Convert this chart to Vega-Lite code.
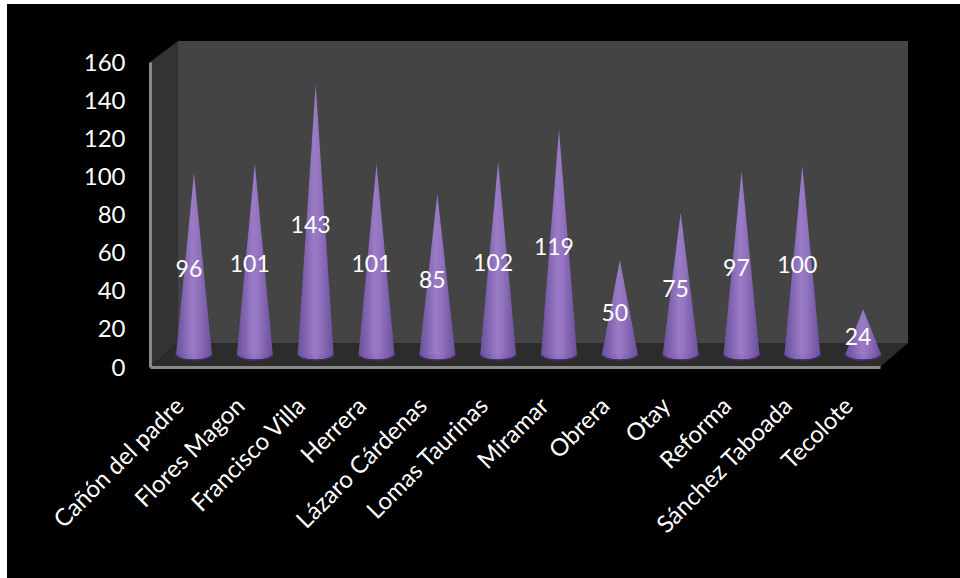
{
  "$schema": "https://vega.github.io/schema/vega-lite/v6.json",
  "width": 730,
  "height": 305,
  "autosize": "none",
  "padding": {"left": 150, "top": 62, "right": 80, "bottom": 211},
  "background": "#ffffff",
  "config": {"view": {"stroke": null}, "font": "Lato"},
  "datasets": {
    "barrios": [
      {"name": "Cañón del padre", "floor": 0, "apex": 96, "end": 0},
      {"name": "Flores Magon", "floor": 0, "apex": 101, "end": 0},
      {"name": "Francisco Villa", "floor": 0, "apex": 143, "end": 0},
      {"name": "Herrera", "floor": 0, "apex": 101, "end": 0},
      {"name": "Lázaro Cárdenas", "floor": 0, "apex": 85, "end": 0},
      {"name": "Lomas Taurinas", "floor": 0, "apex": 102, "end": 0},
      {"name": "Miramar", "floor": 0, "apex": 119, "end": 0},
      {"name": "Obrera", "floor": 0, "apex": 50, "end": 0},
      {"name": "Otay", "floor": 0, "apex": 75, "end": 0},
      {"name": "Reforma", "floor": 0, "apex": 97, "end": 0},
      {"name": "Sánchez Taboada", "floor": 0, "apex": 100, "end": 0},
      {"name": "Tecolote", "floor": 0, "apex": 24, "end": 0}
    ],
    "backdrop": [
      {"part": "panel", "u": -143, "top": 190.4, "bottom": -110.7},
      {"part": "panel", "u": 810, "top": 190.4, "bottom": -110.7},
      {"part": "side wall", "u": 0, "top": 160, "bottom": 0},
      {"part": "side wall", "u": 28, "top": 171, "bottom": 12.6},
      {"part": "back wall", "u": 28, "top": 171, "bottom": 12.6},
      {"part": "back wall", "u": 758, "top": 171, "bottom": 12.6},
      {"part": "floor", "u": 0, "top": 0, "bottom": 0},
      {"part": "floor", "u": 28, "top": 12.6, "bottom": 0},
      {"part": "floor", "u": 730, "top": 12.6, "bottom": 0},
      {"part": "floor", "u": 758, "top": 12.6, "bottom": 12.6}
    ]
  },
  "resolve": {
    "scale": {"x": "independent", "y": "independent"},
    "axis": {"x": "independent", "y": "independent"}
  },
  "layer": [
    {
      "data": {"name": "backdrop"},
      "mark": {"type": "area", "clip": false},
      "encoding": {
        "x": {"field": "u", "type": "quantitative", "axis": null, "scale": {"domain": [0, 730], "nice": false, "zero": false}},
        "y": {
          "field": "top",
          "type": "quantitative",
          "stack": null,
          "scale": {"domain": [0, 160], "nice": false},
          "axis": {
            "title": null,
            "values": [0, 20, 40, 60, 80, 100, 120, 140, 160],
            "grid": false,
            "ticks": false,
            "domainColor": "#8a8a8a",
            "domainWidth": 3,
            "labelColor": "#ffffff",
            "labelFontSize": 24,
            "labelPadding": 25,
            "labelOffset": 1,
            "zindex": 1
          }
        },
        "y2": {"field": "bottom"},
        "detail": {"field": "part"},
        "color": {
          "field": "part",
          "type": "nominal",
          "legend": null,
          "scale": {"domain": ["panel", "side wall", "back wall", "floor"], "range": ["#000000", "#333333", "#444444", "#2c2c2c"]}
        }
      }
    },
    {
      "data": {"name": "barrios"},
      "transform": [{"fold": ["floor", "apex", "end"], "as": ["corner", "height"]}],
      "encoding": {
        "x": {
          "field": "name",
          "type": "nominal",
          "sort": null,
          "bandPosition": 0,
          "scale": {"paddingInner": 0, "paddingOuter": 0},
          "axis": {
            "title": null,
            "labelAngle": -45,
            "labelAlign": "right",
            "labelBaseline": "middle",
            "labelColor": "#ffffff",
            "labelFontSize": 24,
            "labelPadding": 35,
            "labelLimit": 300,
            "ticks": false,
            "grid": false,
            "domainColor": "#8a8a8a",
            "domainWidth": 3,
            "zindex": 1
          }
        }
      },
      "layer": [
        {
          "mark": {
            "type": "point",
            "filled": true,
            "opacity": 1,
            "size": 1296,
            "shape": "M-1,0A1,0.3,0,1,0,1,0A1,0.3,0,1,0,-1,0Z",
            "fill": {
              "gradient": "linear", "x1": 0, "y1": 0, "x2": 1, "y2": 0,
              "stops": [
                {"offset": 0, "color": "#6a4f9c"},
                {"offset": 0.5, "color": "#9676c2"},
                {"offset": 1, "color": "#6a4f9c"}
              ]
            },
            "stroke": "#3f2e63",
            "strokeWidth": 1.5
          },
          "encoding": {
            "xOffset": {"datum": "apex", "scale": {"type": "point", "domain": ["floor", "apex", "end"], "range": [26, 62], "padding": 0}},
            "y": {"datum": 0, "scale": {"domain": [-6.6, 154.8], "nice": false, "zero": false}, "axis": null}
          }
        },
        {
          "mark": {
            "type": "area",
            "fill": {
              "gradient": "linear", "x1": 0, "y1": 0, "x2": 1, "y2": 0,
              "stops": [
                {"offset": 0, "color": "#6a4f9c"},
                {"offset": 0.45, "color": "#9a7bc6"},
                {"offset": 0.6, "color": "#9474bf"},
                {"offset": 1, "color": "#6a4f9c"}
              ]
            }
          },
          "encoding": {
            "xOffset": {"field": "corner", "type": "nominal", "scale": {"type": "point", "domain": ["floor", "apex", "end"], "range": [26, 62], "padding": 0}},
            "y": {"field": "height", "type": "quantitative", "stack": null, "scale": {"domain": [-6.6, 154.8], "nice": false, "zero": false}, "axis": null},
            "detail": {"field": "name"}
          }
        }
      ]
    },
    {
      "data": {"name": "barrios"},
      "mark": {"type": "text", "color": "#ffffff", "fontSize": 23, "dx": 8.5, "baseline": "middle"},
      "encoding": {
        "x": {"field": "name", "type": "nominal", "sort": null, "axis": null, "scale": {"paddingInner": 0, "paddingOuter": 0}},
        "y": {"field": "apex", "type": "quantitative", "scale": {"domain": [-6.35, 316], "nice": false, "zero": false}, "axis": null},
        "text": {"field": "apex", "type": "quantitative"}
      }
    }
  ]
}
